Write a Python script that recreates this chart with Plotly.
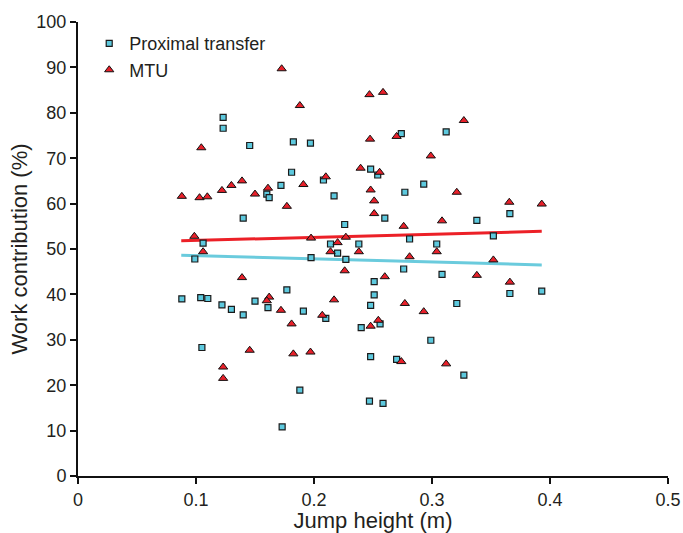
import plotly.graph_objects as go

# Proximal transfer (squares)
prox_x = [0.123, 0.123, 0.1455, 0.1825, 0.197, 0.181, 0.248, 0.254, 0.208, 0.172,
          0.160, 0.162, 0.217, 0.274, 0.312, 0.293, 0.277, 0.106, 0.099, 0.088,
          0.104, 0.110, 0.122, 0.130, 0.105, 0.140, 0.260, 0.226, 0.214, 0.238,
          0.220, 0.1975, 0.227, 0.251, 0.251, 0.177, 0.150, 0.161, 0.140, 0.191,
          0.210, 0.248, 0.256, 0.240, 0.366, 0.338, 0.281, 0.352, 0.304, 0.276,
          0.3085, 0.366, 0.393, 0.321, 0.299, 0.248, 0.188, 0.247, 0.2585, 0.173,
          0.270, 0.327]
prox_y = [79.0, 76.6, 72.8, 73.6, 73.3, 66.9, 67.6, 66.3, 65.2, 64.0,
          62.1, 61.3, 61.7, 75.4, 75.8, 64.3, 62.5, 51.3, 47.8, 39.0,
          39.3, 39.1, 37.7, 36.7, 28.3, 56.8, 56.8, 55.4, 51.1, 51.1,
          49.1, 48.1, 47.7, 42.8, 39.9, 41.0, 38.5, 37.1, 35.5, 36.3,
          34.7, 37.6, 33.5, 32.7, 57.8, 56.3, 52.2, 52.9, 51.1, 45.6,
          44.4, 40.2, 40.7, 38.0, 29.9, 26.3, 18.9, 16.5, 16.0, 10.8,
          25.7, 22.2]

# MTU (triangles)
mtu_x = [0.1045, 0.088, 0.103, 0.1096, 0.122, 0.130, 0.1726, 0.247, 0.2585, 0.188,
         0.2475, 0.2395, 0.2556, 0.210, 0.139, 0.191, 0.161, 0.150, 0.177, 0.248,
         0.251, 0.327, 0.270, 0.299, 0.321, 0.3655, 0.393, 0.0986, 0.106, 0.251,
         0.1975, 0.227, 0.220, 0.214, 0.238, 0.226, 0.139, 0.260, 0.162, 0.160,
         0.217, 0.172, 0.207, 0.181, 0.2545, 0.248, 0.1455, 0.1825, 0.197, 0.276,
         0.3085, 0.304, 0.281, 0.352, 0.338, 0.366, 0.277, 0.293, 0.123, 0.123,
         0.274, 0.312]
mtu_y = [72.3, 61.6, 61.3, 61.5, 62.9, 64.0, 89.7, 84.0, 84.5, 81.6,
         74.2, 67.8, 66.9, 65.9, 65.0, 64.2, 63.4, 62.1, 59.4, 63.0,
         60.6, 78.3, 74.8, 70.5, 62.5, 60.3, 59.9, 52.8, 49.4, 57.8,
         52.4, 52.6, 51.4, 49.4, 49.4, 45.2, 43.7, 43.9, 39.4, 38.6,
         38.8, 36.5, 35.4, 33.5, 34.3, 33.0, 27.7, 26.9, 27.3, 55.0,
         56.2, 49.4, 48.3, 47.6, 44.2, 42.7, 38.0, 36.2, 24.0, 21.5,
         25.2, 24.7]

# Regression line endpoints
fit_x = [0.0875, 0.393]
mtu_fit_y = [51.8, 53.9]
prox_fit_y = [48.6, 46.5]

x_ticks = [0, 0.1, 0.2, 0.3, 0.4, 0.5]
x_tick_text = ["0", "0.1", "0.2", "0.3", "0.4", "0.5"]
y_ticks = list(range(0, 101, 10))

RED = "#E8202A"
BLUE = "#6ACBDD"
FONT = "Liberation Sans, Arial, sans-serif"

fig = go.Figure()
fig.add_trace(go.Scatter(x=fit_x, y=mtu_fit_y, mode="lines",
                         line=dict(color="#EC2027", width=3), showlegend=False, hoverinfo="skip"))
fig.add_trace(go.Scatter(x=fit_x, y=prox_fit_y, mode="lines",
                         line=dict(color=BLUE, width=3), showlegend=False, hoverinfo="skip"))
fig.add_trace(go.Scatter(x=prox_x, y=prox_y, mode="markers", name="Proximal transfer",
                         marker=dict(symbol="square", size=6, color="#5DC9DE",
                                     line=dict(color="#1a1a1a", width=1.2))))
fig.add_trace(go.Scatter(x=mtu_x, y=mtu_y, mode="markers", name="MTU",
                         marker=dict(symbol="triangle-up", size=8, color=RED,
                                     line=dict(color="#111111", width=1))))

fig.update_layout(
    width=683, height=533,
    margin=dict(l=78, r=15, t=22, b=57),
    paper_bgcolor="white", plot_bgcolor="white",
    font=dict(family=FONT, size=18, color="#231F20"),
    legend=dict(x=0.019, y=0.993, xanchor="left", yanchor="top",
                bgcolor="rgba(0,0,0,0)", font=dict(size=18),
                itemwidth=30, tracegroupgap=0),
    showlegend=True,
)
fig.update_xaxes(range=[0, 0.5], tickvals=x_ticks, ticktext=x_tick_text,
                 showline=True, linecolor="#111", linewidth=2,
                 ticks="outside", ticklen=6, tickwidth=2, tickcolor="#111",
                 showgrid=False, zeroline=False, automargin=False,
                 title=dict(text="Jump height (m)", standoff=10))
fig.update_yaxes(range=[0, 100], tickvals=y_ticks,
                 showline=True, linecolor="#111", linewidth=2,
                 ticks="outside", ticklen=6, tickwidth=2, tickcolor="#111",
                 showgrid=False, zeroline=False, automargin=False,
                 title=dict(text="Work contribution (%)", standoff=3))

fig.write_html("out.html")
